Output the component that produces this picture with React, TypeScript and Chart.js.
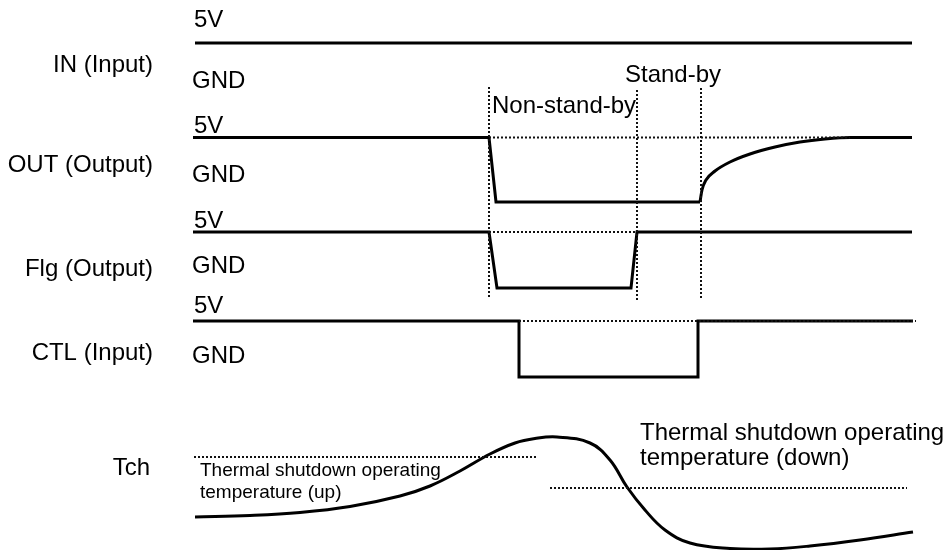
import React, { useEffect, useRef } from "react";
import { Chart, registerables } from "chart.js";

Chart.register(...registerables);

// ---- Waveform data (time axis → x, level → y; diagram units) ----
const IN_X = [195, 912];
const IN_Y = [43, 43];

const OUT_STEP_X = [193, 489, 496, 700];
const OUT_STEP_Y = [137.5, 137.5, 202, 202];
const OUT_RISE_X = [700, 702, 706, 715, 730, 750, 775, 800, 825, 850, 912];
const OUT_RISE_Y = [202, 190, 180, 171, 162, 154, 147, 142, 139, 137.5, 137.5];

const FLG_X = [193, 489, 497, 631, 637, 912];
const FLG_Y = [232, 232, 288, 288, 232, 232];

const CTL_X = [193, 519, 519, 698, 698, 913];
const CTL_Y = [321, 321, 377, 377, 321, 321];

const TCH_X = [195, 250, 300, 350, 400, 430, 460, 490, 515, 535, 557, 590, 610, 627, 645, 665, 690, 730, 770, 810, 860, 913];
const TCH_Y = [517, 515.5, 512.5, 506.5, 496, 486, 471, 454, 443, 438.5, 437, 443, 460, 487, 510, 530, 543, 548.5, 549, 546, 540, 532];

// dotted guide lines: [x1, y1, x2, y2]
const GUIDE_X1 = [489, 637, 701, 489, 489, 519, 194, 550];
const GUIDE_Y1 = [87, 90, 88, 137.5, 232, 321, 457, 488];
const GUIDE_X2 = [489, 637, 701, 850, 637, 916, 537, 907];
const GUIDE_Y2 = [298, 302, 298, 137.5, 232, 321, 457, 488];

// ---- Text ----
const SIGNAL_NAMES = ["IN (Input)", "OUT (Output)", "Flg (Output)", "CTL (Input)", "Tch"];
const SIGNAL_NAME_Y = [72, 172, 276, 360, 475];
const HIGH_LABEL = "5V";
const HIGH_LABEL_Y = [27, 133, 228, 313];
const LOW_LABEL = "GND";
const LOW_LABEL_Y = [88, 182, 273, 363];
const STATE_LABELS = ["Non-stand-by", "Stand-by"];
const STATE_LABEL_X = [492, 625];
const STATE_LABEL_Y = [113, 82];
const TSD_UP = ["Thermal shutdown operating", "temperature (up)"];
const TSD_UP_Y = [476, 498];
const TSD_DOWN = ["Thermal shutdown operating", "temperature (down)"];
const TSD_DOWN_Y = [440, 465];

const FONT = '"Liberation Sans", Arial, sans-serif';

const pts = (xs: number[], ys: number[]) => xs.map((x, i) => ({ x, y: ys[i] }));

export default function App() {
  const ref = useRef<HTMLCanvasElement | null>(null);

  useEffect(() => {
    if (!ref.current) return;
    const solid = (data: any[], extra: any = {}) => ({
      data,
      showLine: true,
      borderColor: "#000",
      borderWidth: 3,
      pointRadius: 0,
      tension: 0,
      clip: false,
      borderJoinStyle: "miter",
      ...extra,
    });
    const guides = GUIDE_X1.map((x1, i) =>
      solid(
        [
          { x: x1, y: GUIDE_Y1[i] },
          { x: GUIDE_X2[i], y: GUIDE_Y2[i] },
        ],
        { borderWidth: 2, borderDash: [2, 2], borderColor: "#111" }
      )
    );

    const textPlugin = {
      id: "texts",
      afterDatasetsDraw(chart: any) {
        const { ctx } = chart;
        const sx = chart.scales.x;
        const sy = chart.scales.y;
        const X = (v: number) => sx.getPixelForValue(v);
        const Y = (v: number) => sy.getPixelForValue(v);
        ctx.save();
        ctx.fillStyle = "#000";
        ctx.textBaseline = "alphabetic";
        ctx.font = `24px ${FONT}`;
        ctx.textAlign = "right";
        SIGNAL_NAMES.forEach((t, i) => ctx.fillText(t, X(i === 4 ? 150 : 153), Y(SIGNAL_NAME_Y[i])));
        ctx.textAlign = "left";
        HIGH_LABEL_Y.forEach((y) => ctx.fillText(HIGH_LABEL, X(194), Y(y)));
        LOW_LABEL_Y.forEach((y) => ctx.fillText(LOW_LABEL, X(192), Y(y)));
        STATE_LABELS.forEach((t, i) => ctx.fillText(t, X(STATE_LABEL_X[i]), Y(STATE_LABEL_Y[i])));
        TSD_DOWN.forEach((t, i) => ctx.fillText(t, X(640), Y(TSD_DOWN_Y[i])));
        ctx.font = `19px ${FONT}`;
        TSD_UP.forEach((t, i) => ctx.fillText(t, X(200), Y(TSD_UP_Y[i])));
        ctx.restore();
      },
    };

    const chart = new Chart(ref.current, {
      type: "scatter",
      data: {
        datasets: [
          ...guides,
          solid(pts(IN_X, IN_Y)),
          solid(pts(OUT_STEP_X, OUT_STEP_Y)),
          solid(pts(OUT_RISE_X, OUT_RISE_Y), { cubicInterpolationMode: "monotone" }),
          solid(pts(FLG_X, FLG_Y)),
          solid(pts(CTL_X, CTL_Y)),
          solid(pts(TCH_X, TCH_Y), { tension: 0.4, borderJoinStyle: "round" }),
        ] as any,
      },
      options: {
        animation: false,
        responsive: true,
        maintainAspectRatio: false,
        layout: { padding: 0 },
        plugins: { legend: { display: false }, tooltip: { enabled: false } },
        scales: {
          x: { type: "linear", min: 0, max: 947, display: false },
          y: { type: "linear", min: 0, max: 550, reverse: true, display: false },
        },
      },
      plugins: [textPlugin],
    });
    return () => chart.destroy();
  }, []);

  return (
    <div style={{ position: "fixed", left: 0, top: 0, width: 947, height: 550, background: "#fff" }}>
      <canvas ref={ref} />
    </div>
  );
}
